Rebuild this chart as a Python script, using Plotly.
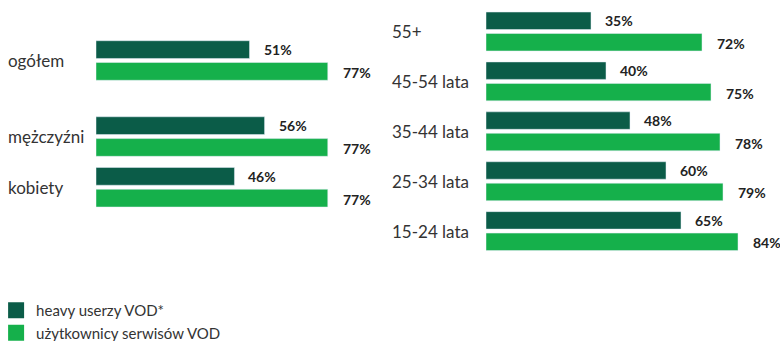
import plotly.graph_objects as go

# ---- data ----
left_categories = ["ogółem", "mężczyźni", "kobiety"]
left_heavy = [51, 56, 46]
left_users = [77, 77, 77]

right_categories = ["55+", "45-54 lata", "35-44 lata", "25-34 lata", "15-24 lata"]
right_heavy = [35, 40, 48, 60, 65]
right_users = [72, 75, 78, 79, 84]

series_names = ["heavy userzy VOD*", "użytkownicy serwisów VOD"]

# ---- layout helpers ----
left_slots = [0, 1.5, 2.5]
right_slots = list(range(len(right_categories)))

DARK = "#0b5c48"
LIGHT = "#15b04b"
FONT = "Lato"
BAR_W = 0.35
OFF_DARK = -0.39
OFF_LIGHT = 0.04

fig = go.Figure()

def add_panel(slots, heavy, users, xa, ya):
    fig.add_trace(go.Bar(x=heavy, y=slots, orientation="h", marker_color=DARK,
                         width=BAR_W, offset=OFF_DARK, xaxis=xa, yaxis=ya,
                         showlegend=False, hoverinfo="skip"))
    fig.add_trace(go.Bar(x=users, y=slots, orientation="h", marker_color=LIGHT,
                         width=BAR_W, offset=OFF_LIGHT, xaxis=xa, yaxis=ya,
                         showlegend=False, hoverinfo="skip"))
    for s, h, u in zip(slots, heavy, users):
        fig.add_annotation(x=h, y=s + OFF_DARK + BAR_W / 2, xref=xa, yref=ya,
                           text=f"<b>{h}%</b>", showarrow=False, xanchor="left",
                           xshift=12, font=dict(family=FONT, size=14, color="#222222"))
        fig.add_annotation(x=u, y=s + OFF_LIGHT + BAR_W / 2, xref=xa, yref=ya,
                           text=f"<b>{u}%</b>", showarrow=False, xanchor="left",
                           xshift=13, yshift=-1, font=dict(family=FONT, size=14, color="#222222"))

add_panel(left_slots, left_heavy, left_users, "x", "y")
add_panel(right_slots, right_heavy, right_users, "x2", "y2")

for s, c in zip(left_slots, left_categories):
    fig.add_annotation(x=6 / 780, y=s, xref="paper", yref="y", text=c, showarrow=False,
                       xanchor="left", font=dict(family=FONT, size=17, color="#333333"))
for s, c in zip(right_slots, right_categories):
    fig.add_annotation(x=390 / 780, y=s, xref="paper", yref="y2", text=c, showarrow=False,
                       xanchor="left", font=dict(family=FONT, size=17, color="#333333"))

# legend entries
for name, col in zip(series_names, [DARK, LIGHT]):
    fig.add_trace(go.Scatter(x=[None], y=[None], mode="markers", name=name,
                             marker=dict(symbol="square", size=16, color=col)))

fig.update_layout(
    width=780, height=341,
    margin=dict(l=0, r=0, t=0, b=0, autoexpand=False),
    paper_bgcolor="white", plot_bgcolor="white",
    xaxis=dict(domain=[96 / 780, 380 / 780], range=[0, (380 - 96) / 3.01], visible=False),
    xaxis2=dict(domain=[486 / 780, 1], range=[0, 294 / 3.0], visible=False, anchor="y2"),
    yaxis=dict(domain=[0, 1], range=[(341 - 60.5) / 50.7, -60.5 / 50.7], visible=False),
    yaxis2=dict(domain=[0, 1], range=[(341 - 31.5) / 49.9, -31.5 / 49.9], visible=False, anchor="x2"),
    legend=dict(x=-0.005, y=1 - 294 / 341, xanchor="left", yanchor="top",
                font=dict(family=FONT, size=15, color="#333333"),
                bgcolor="rgba(0,0,0,0)", tracegroupgap=0),
    showlegend=True,
)

fig.write_html("out.html", config={"displayModeBar": False},
               post_script="document.body.style.margin='0';")
